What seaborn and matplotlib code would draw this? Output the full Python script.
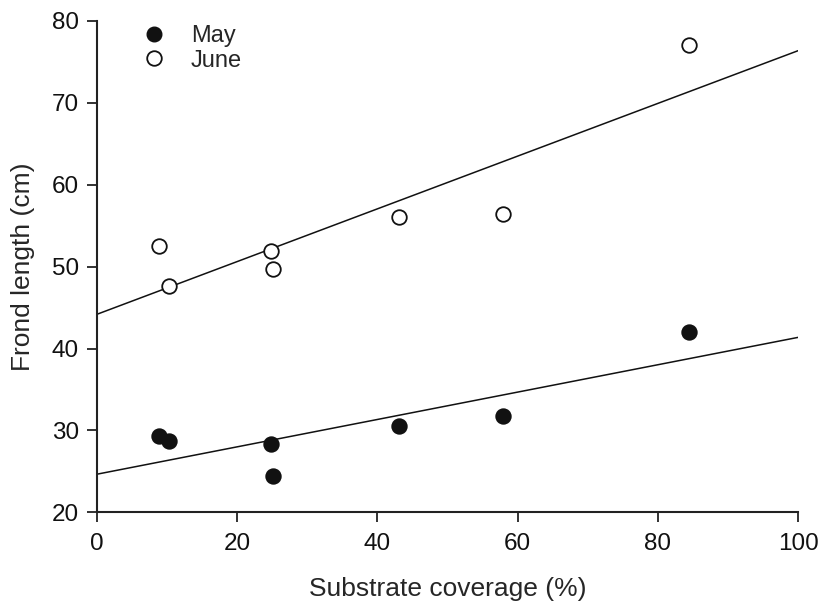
import matplotlib
matplotlib.use("Agg")
import matplotlib.pyplot as plt
import seaborn as sns
import pandas as pd
from matplotlib.lines import Line2D

coverage = [8.9, 10.3, 24.8, 25.1, 43.1, 57.9, 84.5]
may_length = [29.3, 28.7, 28.4, 24.4, 30.55, 31.8, 42.0]
june_length = [52.5, 47.6, 51.9, 49.65, 56.1, 56.4, 77.0]
x_ticks = [0, 20, 40, 60, 80, 100]
y_ticks = [20, 30, 40, 50, 60, 70, 80]

sns.set_style("ticks")
plt.rcParams["font.family"] = ["Liberation Sans", "DejaVu Sans"]

df_may = pd.DataFrame({"cov": coverage, "len": may_length})
df_june = pd.DataFrame({"cov": coverage, "len": june_length})

fig = plt.figure(figsize=(8.2, 6.1), dpi=100)
ax = fig.add_axes([0.1183, 0.160, 0.855, 0.806])
ax.set_xlim(0, 100)
ax.set_ylim(20, 80)

msize = 110
for df, fc in [(df_may, "#111111"), (df_june, "white")]:
    sns.regplot(data=df, x="cov", y="len", ax=ax, ci=None, truncate=False,
                scatter_kws=dict(s=msize, facecolor=fc, edgecolor="#111111",
                                 linewidths=1.3, alpha=1, zorder=3),
                line_kws=dict(color="#111111", lw=1.1, zorder=2))

ax.set_xlim(0, 100)
ax.set_ylim(20, 80)
ax.set_xticks(x_ticks)
ax.set_yticks(y_ticks)
ax.set_xlabel("Substrate coverage (%)", fontsize=19, labelpad=16)
ax.set_ylabel("Frond length (cm)", fontsize=19, labelpad=12)
ax.tick_params(axis="both", labelsize=17.5, length=7, width=1.3, direction="out",
               color="#222222", labelcolor="#111111")
ax.tick_params(axis="x", pad=8)
ax.tick_params(axis="y", pad=6)
for side in ["top", "right"]:
    ax.spines[side].set_visible(False)
for side in ["left", "bottom"]:
    ax.spines[side].set_linewidth(1.5)
    ax.spines[side].set_color("#222222")

handles = [
    Line2D([], [], marker="o", linestyle="none", markersize=10.5,
           markerfacecolor="#111111", markeredgecolor="#111111", label="May"),
    Line2D([], [], marker="o", linestyle="none", markersize=10.5,
           markerfacecolor="white", markeredgecolor="#111111", markeredgewidth=1.3,
           label="June"),
]
ax.legend(handles=handles, loc="upper left", bbox_to_anchor=(0.018, 1.035),
          frameon=False, fontsize=17, handletextpad=0.55, labelspacing=0.12)

fig.savefig("out.png", dpi=100)
